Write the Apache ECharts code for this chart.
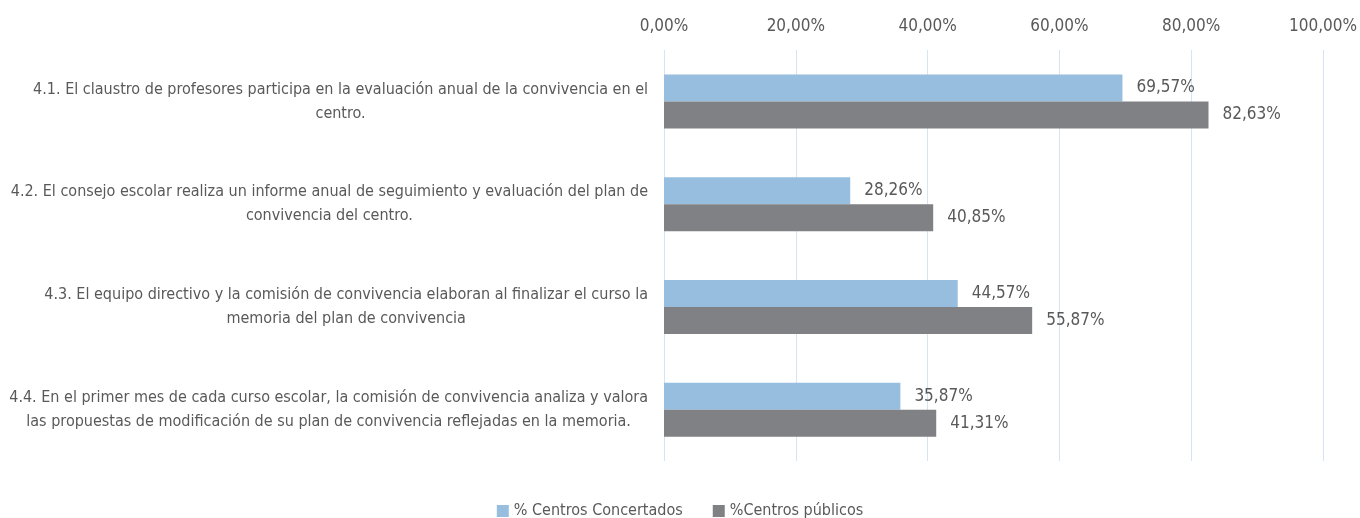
<!DOCTYPE html>
<html>
<head>
<meta charset="utf-8">
<script src="https://cdn.jsdelivr.net/npm/echarts@6/dist/echarts.min.js"></script>
<style>
  html, body { margin: 0; padding: 0; background: #fff; }
  #chart { width: 1360px; height: 518px; }
</style>
</head>
<body>
<div id="chart"></div>
<script>
// categorías (saltos de línea como en el original)
var categories = [
  '4.1. El claustro de profesores participa en la evaluación anual de la convivencia en el\ncentro.',
  '4.2. El consejo escolar realiza un informe anual de seguimiento y evaluación del plan de\nconvivencia del centro.',
  '4.3. El equipo directivo y la comisión de convivencia elaboran al finalizar el curso la\nmemoria del plan de convivencia',
  '4.4. En el primer mes de cada curso escolar, la comisión de convivencia analiza y valora\nlas propuestas de modificación de su plan de convivencia reflejadas en la memoria.'
];
var concertados = [0.6957, 0.2826, 0.4457, 0.3587];
var publicos = [0.8263, 0.4085, 0.5587, 0.4131];
var seriesNames = ['% Centros Concertados', '%Centros públicos'];

var FONT = '"Liberation Sans Narrow", "DejaVu Sans Condensed", sans-serif';
var TXT = '#595959';

function pct(v) {
  return (v * 100).toFixed(2).replace('.', ',') + '%';
}

var chart = echarts.init(document.getElementById('chart'));
var option = {
  animation: false,
  textStyle: { fontFamily: FONT },
  grid: { left: 664, right: 36, top: 50, bottom: 57 },
  legend: {
    top: 498,
    left: 'center',
    itemWidth: 12,
    itemHeight: 12,
    itemGap: 30,
    icon: 'rect',
    textStyle: { color: TXT, fontSize: 16, fontFamily: FONT },
    data: seriesNames
  },
  xAxis: {
    type: 'value',
    position: 'top',
    min: 0,
    max: 1,
    interval: 0.2,
    axisLine: { show: false },
    axisTick: { show: false },
    axisLabel: {
      color: TXT,
      fontSize: 17,
      fontFamily: FONT,
      margin: 15,
      formatter: pct
    },
    splitLine: { lineStyle: { color: '#D5E4F2', width: 1 } }
  },
  yAxis: {
    type: 'category',
    inverse: true,
    data: categories,
    axisLine: { show: false },
    axisTick: { show: false },
    axisLabel: {
      margin: 16,
      align: 'right',
      formatter: function (v) {
        return v.split('\n').map(function (s) { return '{a|' + s + '}'; }).join('\n');
      },
      rich: {
        a: { color: TXT, fontSize: 16, fontFamily: FONT, lineHeight: 24, align: 'center' }
      }
    }
  },
  series: [
    {
      name: seriesNames[0],
      type: 'bar',
      data: concertados,
      barWidth: 27,
      barGap: '0%',
      itemStyle: { color: '#97BEDF' },
      label: {
        show: true,
        position: 'right',
        distance: 14,
        color: TXT,
        fontSize: 17,
        fontFamily: FONT,
        formatter: function (p) { return pct(p.value); }
      }
    },
    {
      name: seriesNames[1],
      type: 'bar',
      data: publicos,
      barWidth: 27,
      barGap: '0%',
      itemStyle: { color: '#808184' },
      label: {
        show: true,
        position: 'right',
        distance: 14,
        color: TXT,
        fontSize: 17,
        fontFamily: FONT,
        formatter: function (p) { return pct(p.value); }
      }
    }
  ]
};
chart.setOption(option);
</script>
</body>
</html>
